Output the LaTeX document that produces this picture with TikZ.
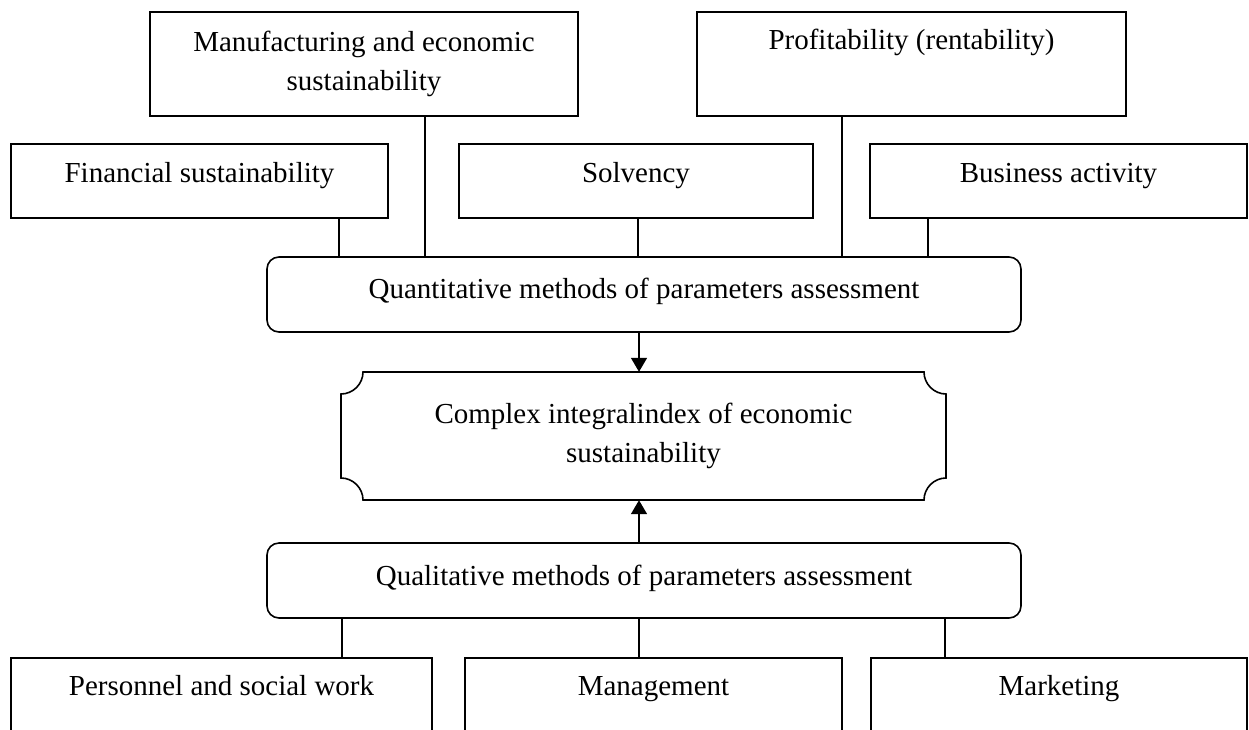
\documentclass[tikz,border=0pt]{standalone}
\usepackage{fontspec}
\setmainfont{Liberation Serif}
\usetikzlibrary{arrows.meta,calc}
\begin{document}
\begin{tikzpicture}[x=1pt,y=-1pt,
  every node/.style={font=\fontsize{29}{39}\selectfont},
  box/.style={draw,line width=1.6pt,rectangle,inner sep=0pt,align=center},
  rbox/.style={box,rounded corners=12pt},
  conn/.style={line width=1.6pt},
  arr/.style={line width=1.6pt,-{Triangle[width=16pt,length=14pt]}}]
\useasboundingbox (0,0) rectangle (1249,729);
\clip (0,0) rectangle (1249,729);
% top row
\node[box,minimum width=428pt,minimum height=104pt] (manuf) at (364,64) {Manufacturing and economic\\sustainability};
\node[box,minimum width=429pt,minimum height=104pt,text height=20pt,text depth=50pt] (prof) at (911.5,64) {Profitability (rentability)};
% second row
\node[box,minimum width=377pt,minimum height=74pt,text height=20pt,text depth=18pt] (fin) at (199.5,181) {Financial sustainability};
\node[box,minimum width=354pt,minimum height=74pt,text height=20pt,text depth=18pt] (solv) at (636,181) {Solvency};
\node[box,minimum width=377pt,minimum height=74pt,text height=20pt,text depth=18pt] (bus) at (1058.5,181) {Business activity};
% quantitative
\node[rbox,minimum width=754pt,minimum height=75pt,text height=20pt,text depth=13pt] (quant) at (644,294.5) {Quantitative methods of parameters assessment};
% complex index
\node[inner sep=0pt,minimum width=605pt,minimum height=128pt,align=center] (cx) at (643.5,436) {Complex integralindex of economic\\sustainability};
\draw[line width=1.6pt] (363,372) -- (924,372)
  .. controls (924,384) and (934,394) .. (946,394) -- (946,478)
  .. controls (934,478) and (924,488) .. (924,500) -- (363,500)
  .. controls (363,488) and (353,478) .. (341,478) -- (341,394)
  .. controls (353,394) and (363,384) .. (363,372) -- cycle;
% qualitative
\node[rbox,minimum width=754pt,minimum height=75pt,text height=20pt,text depth=11pt] (qual) at (644,580.5) {Qualitative methods of parameters assessment};
% bottom row
\node[box,minimum width=421pt,minimum height=74pt,text height=20pt,text depth=20pt] (pers) at (221.5,695) {Personnel and social work};
\node[box,minimum width=377pt,minimum height=74pt,text height=20pt,text depth=20pt] (mgmt) at (653.5,695) {Management};
\node[box,minimum width=376pt,minimum height=74pt,text height=20pt,text depth=20pt] (mkt) at (1059,695) {Marketing};
% connectors to quantitative
\draw[conn] ([xshift=-50pt]fin.south east) -- ([xshift=-50pt]fin.south east |- quant.north);
\draw[conn] ([xshift=61pt]manuf.south) -- ([xshift=61pt]manuf.south |- quant.north);
\draw[conn] ([xshift=2pt]solv.south) -- ([xshift=2pt]solv.south |- quant.north);
\draw[conn] ([xshift=-69.5pt]prof.south) -- ([xshift=-69.5pt]prof.south |- quant.north);
\draw[conn] ([xshift=-130.5pt]bus.south) -- ([xshift=-130.5pt]bus.south |- quant.north);
% arrows to complex index
\draw[arr] ([xshift=-5pt]quant.south) -- ([xshift=-5pt]quant.south |- cx.north);
\draw[arr] ([xshift=-5pt]qual.north) -- ([xshift=-5pt]qual.north |- cx.south);
% connectors from qualitative
\draw[conn] ([xshift=120.5pt]pers.north) -- ([xshift=120.5pt]pers.north |- qual.south);
\draw[conn] ([xshift=-14.5pt]mgmt.north) -- ([xshift=-14.5pt]mgmt.north |- qual.south);
\draw[conn] ([xshift=-114pt]mkt.north) -- ([xshift=-114pt]mkt.north |- qual.south);
\end{tikzpicture}
\end{document}
